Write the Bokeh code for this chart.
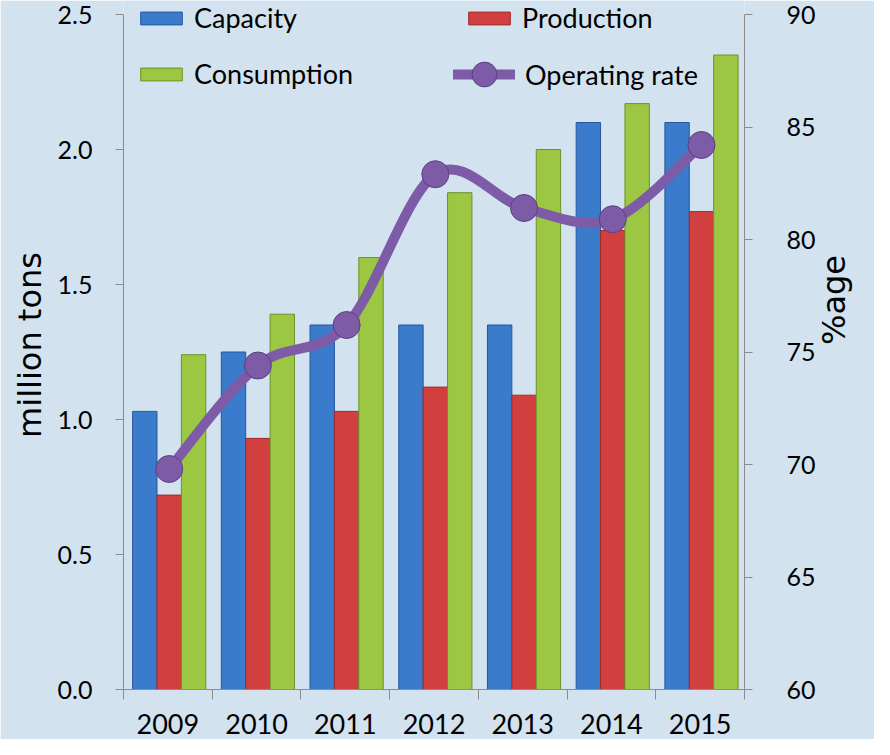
import math
from bokeh.plotting import figure
from bokeh.models import (Range1d, LinearAxis, FixedTicker, Legend, LegendItem,
                          ColumnDataSource, PrintfTickFormatter)
from bokeh.embed import file_html
from bokeh.resources import INLINE

# ---------------- data ----------------
years = ["2009", "2010", "2011", "2012", "2013", "2014", "2015"]
capacity = [1.03, 1.25, 1.35, 1.35, 1.35, 2.10, 2.10]
production = [0.72, 0.93, 1.03, 1.12, 1.09, 1.70, 1.77]
consumption = [1.24, 1.39, 1.60, 1.84, 2.00, 2.17, 2.35]
operating_rate = [69.8, 74.4, 76.2, 82.9, 81.4, 80.9, 84.2]
left_ticks = [0.0, 0.5, 1.0, 1.5, 2.0, 2.5]
right_ticks = [60, 65, 70, 75, 80, 85, 90]

# ---------------- style ----------------
BG = "#D2E3EF"
AX = "#8C8C8C"
TICK_FONT = "Lato"
TITLE_FONT = "DejaVu Sans"
BLUE, BLUE_D = "#3B7BCB", "#24579E"
RED, RED_D = "#D23F3F", "#9E2A2A"
GREEN, GREEN_D = "#9CC743", "#6E9128"
PURPLE, PURPLE_D = "#7D5BA6", "#5B3F82"

W, H = 874, 739
BL, BR, BT, BB = 123, 125, 0, 50
FH = H - BT - BB
TOP_PAD = 14  # px between frame top and the top tick

n = len(years)
centers = [i + 0.5 for i in range(n)]
bw = 0.275
offsets = [-0.26, 0.015, 0.29]

y_top = left_ticks[-1] + TOP_PAD * (left_ticks[-1] - left_ticks[0]) / (FH - TOP_PAD)
r_top = right_ticks[-1] + TOP_PAD * (right_ticks[-1] - right_ticks[0]) / (FH - TOP_PAD)

src = ColumnDataSource(dict(
    xc=[c + offsets[0] for c in centers],
    xp=[c + offsets[1] for c in centers],
    xg=[c + offsets[2] for c in centers],
    cap=capacity, prod=production, cons=consumption, rate=operating_rate,
))

p = figure(width=W, height=H, x_range=Range1d(0, n), y_range=Range1d(left_ticks[0], y_top),
           output_backend="svg", toolbar_location=None,
           min_border_left=BL, min_border_right=BR, min_border_top=BT, min_border_bottom=BB,
           background_fill_color=BG, border_fill_color=BG, outline_line_color=None)
p.extra_y_ranges = {"rate": Range1d(right_ticks[0], r_top)}
p.xgrid.visible = False
p.ygrid.visible = False

r_cap = p.vbar(x="xc", top="cap", width=bw, source=src, fill_color=BLUE, line_color=BLUE_D, line_width=1)
r_prod = p.vbar(x="xp", top="prod", width=bw, source=src, fill_color=RED, line_color=RED_D, line_width=1)
r_cons = p.vbar(x="xg", top="cons", width=bw, source=src, fill_color=GREEN, line_color=GREEN_D, line_width=1)

# smoothed line (Catmull-Rom -> cubic Bezier)
xs = list(src.data["xp"])
ys = list(operating_rate)
x0, y0, x1, y1, cx0, cy0, cx1, cy1 = [], [], [], [], [], [], [], []
for i in range(n - 1):
    im1 = max(i - 1, 0)
    ip2 = min(i + 2, n - 1)
    x0.append(xs[i]); y0.append(ys[i]); x1.append(xs[i + 1]); y1.append(ys[i + 1])
    cx0.append(xs[i] + (xs[i + 1] - xs[im1]) / 6.0)
    cy0.append(ys[i] + (ys[i + 1] - ys[im1]) / 6.0)
    cx1.append(xs[i + 1] - (xs[ip2] - xs[i]) / 6.0)
    cy1.append(ys[i + 1] - (ys[ip2] - ys[i]) / 6.0)
r_line = p.bezier(x0=x0, y0=y0, x1=x1, y1=y1, cx0=cx0, cy0=cy0, cx1=cx1, cy1=cy1,
                  line_color=PURPLE, line_width=10, line_cap="round", y_range_name="rate")
r_pts = p.scatter(x="xp", y="rate", source=src, size=27, fill_color=PURPLE, line_color=PURPLE_D,
                  line_width=1, y_range_name="rate")

# axes
xa = p.xaxis[0]
xa.ticker = FixedTicker(ticks=centers, minor_ticks=list(range(n + 1)))
xa.major_label_overrides = {c: y for c, y in zip(centers, years)}
xa.major_tick_line_color = None
xa.major_tick_out = 0
xa.major_tick_in = 0
xa.minor_tick_line_color = AX
xa.minor_tick_out = 10
xa.minor_tick_in = 0
xa.axis_line_color = AX
xa.major_label_standoff = 14
xa.major_label_text_font = TICK_FONT
xa.major_label_text_font_size = "27px"
xa.major_label_text_color = "black"

ya = p.yaxis[0]
ya.ticker = FixedTicker(ticks=left_ticks)
ya.formatter = PrintfTickFormatter(format="%.1f")
ya.axis_label = "million tons"
ya.bounds = (left_ticks[0], left_ticks[-1])

ra = LinearAxis(y_range_name="rate", ticker=FixedTicker(ticks=right_ticks), axis_label="%age",
                bounds=(right_ticks[0], right_ticks[-1]))
if "axis_label_orientation" in ra.properties():
    ra.axis_label_orientation = math.pi / 2
p.add_layout(ra, "right")

for a, st, ls in ((ya, 23, 6), (ra, 34, 15)):
    a.axis_line_color = AX
    a.major_tick_line_color = AX
    a.major_tick_out = 8
    a.major_tick_in = 0
    a.minor_tick_line_color = None
    a.major_label_standoff = st
    a.major_label_text_font = TICK_FONT
    a.major_label_text_font_size = "25px"
    a.major_label_text_color = "black"
    a.axis_label_text_font = TITLE_FONT
    a.axis_label_text_font_size = "32px"
    a.axis_label_text_font_style = "normal"
    a.axis_label_text_color = "black"
    a.axis_label_standoff = ls

# legends: one per item, laid out as two columns
def mk_legend(label, rends, loc, gw=52, gh=16, standoff=7):
    return Legend(items=[LegendItem(label=label, renderers=rends)], location=loc,
                  label_text_font=TICK_FONT, label_text_font_size="27px", label_text_color="black",
                  glyph_width=gw, glyph_height=gh, label_standoff=standoff, spacing=0,
                  padding=0, margin=0, border_line_color=None, background_fill_alpha=0)

ROW1, ROW2 = 18, 74   # item centres below frame top (px)
TXT_H = 32
p.add_layout(mk_legend("Capacity", [r_cap], (12, FH - ROW1 - TXT_H // 2)), "center")
p.add_layout(mk_legend("Consumption", [r_cons], (12, FH - ROW2 - TXT_H // 2)), "center")
p.add_layout(mk_legend("Production", [r_prod], (340, FH - ROW1 - TXT_H // 2)), "center")
p.add_layout(mk_legend("Operating rate", [r_line, r_pts], (330, FH - ROW2 - 31), gw=62, gh=62,
                       standoff=10), "center")

open("out.html", "w").write(file_html(p, INLINE))
